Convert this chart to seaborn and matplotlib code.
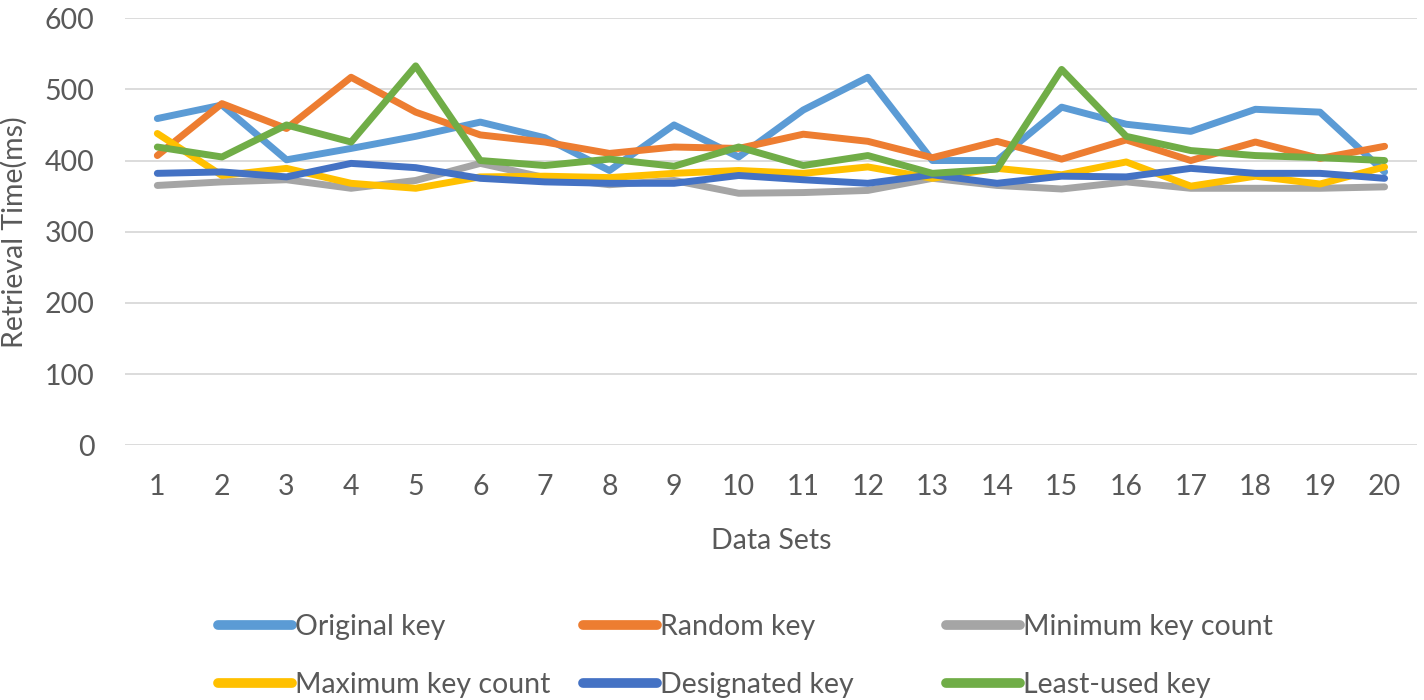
import matplotlib
matplotlib.use("Agg")
import matplotlib.pyplot as plt
import pandas as pd
import seaborn as sns
from matplotlib.lines import Line2D

data_sets = list(range(1, 21))
series_names = [
    "Original key",
    "Random key",
    "Minimum key count",
    "Maximum key count",
    "Designated key",
    "Least-used key",
]
original_key = [459, 478, 401, 417, 434, 454, 432, 386, 450, 405, 471, 517, 400, 400, 475, 451, 441, 472, 468, 384]
random_key = [407, 480, 445, 517, 468, 436, 426, 410, 419, 417, 437, 427, 404, 427, 402, 429, 400, 426, 403, 420]
minimum_key_count = [365, 370, 373, 361, 372, 396, 376, 366, 372, 354, 355, 358, 375, 365, 360, 370, 361, 361, 361, 363]
maximum_key_count = [438, 379, 389, 368, 361, 377, 378, 376, 382, 386, 382, 391, 375, 389, 380, 398, 364, 378, 367, 391]
designated_key = [382, 384, 377, 396, 390, 375, 370, 368, 368, 379, 373, 368, 380, 368, 378, 377, 389, 382, 382, 375]
least_used_key = [419, 405, 450, 426, 533, 400, 393, 402, 392, 419, 393, 407, 382, 388, 528, 434, 414, 407, 404, 400]
colors = ["#5B9BD5", "#ED7D31", "#A5A5A5", "#FFC000", "#4472C4", "#70AD47"]

values = [original_key, random_key, minimum_key_count, maximum_key_count, designated_key, least_used_key]
df = pd.concat(
    [pd.DataFrame({"set": data_sets, "time": v, "series": n}) for n, v in zip(series_names, values)],
    ignore_index=True,
)

sns.set_theme(style="white")
plt.rcParams["font.family"] = ["Lato", "DejaVu Sans"]
text_color = "#595959"
fs = 20.5

fig = plt.figure(figsize=(14.24, 7.0), dpi=100)
ax = fig.add_axes([0.0878, 0.364, 0.9072, 0.61])

sns.lineplot(
    data=df, x="set", y="time", hue="series", hue_order=series_names,
    palette=colors, linewidth=5, legend=False, ax=ax,
)

ax.set_xlim(0.5, 20.5)
ax.set_ylim(0, 600)
ax.set_xticks(data_sets)
ax.set_yticks(range(0, 601, 100))
ax.yaxis.grid(True, color="#d9d9d9", linewidth=1.3)
ax.set_axisbelow(True)
for s in ax.spines.values():
    s.set_visible(False)
ax.tick_params(axis="both", length=0, labelsize=fs, labelcolor=text_color)
ax.tick_params(axis="x", pad=21)
ax.tick_params(axis="y", pad=22)
ax.set_xlabel("Data Sets", fontsize=fs, color=text_color, labelpad=20)
ax.set_ylabel("Retrieval Time(ms)", fontsize=fs, color=text_color, labelpad=12)

# legend: three equally spaced columns, two rows
handles = [Line2D([], [], color=c, linewidth=7, solid_capstyle="round") for c in colors]
col_x = [218 / 1424, 583 / 1424, 946 / 1424]
for i, x in enumerate(col_x):
    idx = [i, i + 3]
    fig.legend(
        [handles[j] for j in idx], [series_names[j] for j in idx],
        loc="upper left", bbox_to_anchor=(x, 1 - 614 / 700), frameon=False,
        fontsize=fs, labelcolor=text_color, handlelength=2.6, handletextpad=0.1,
        labelspacing=1.12, borderpad=0, borderaxespad=0,
    )

fig.savefig("out.png", dpi=100)
